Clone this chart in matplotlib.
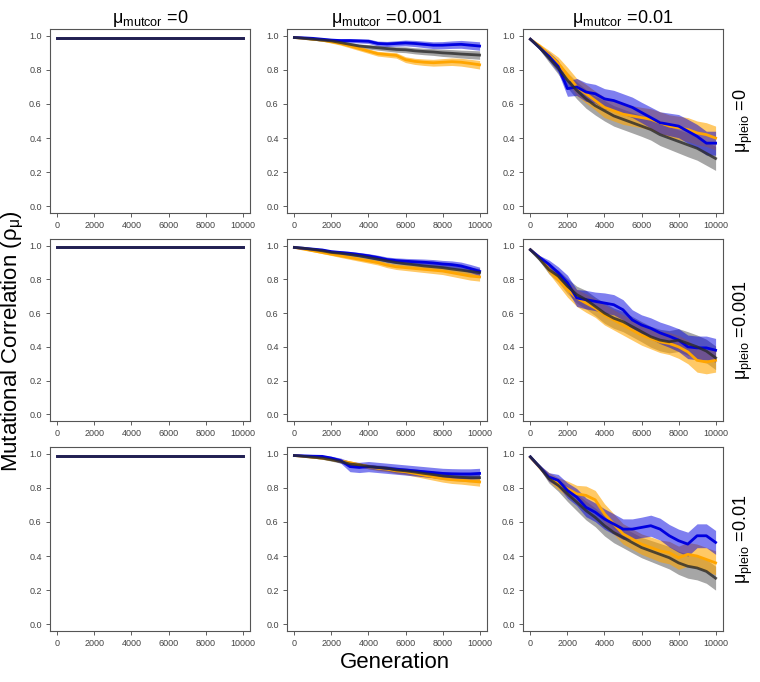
import matplotlib
matplotlib.use("Agg")
import matplotlib.pyplot as plt
import numpy as np

plt.rcParams['font.family'] = ['Liberation Sans', 'DejaVu Sans']
plt.rcParams['mathtext.fontset'] = 'custom'
plt.rcParams['mathtext.rm'] = 'Liberation Sans'
plt.rcParams['mathtext.it'] = 'Liberation Sans'
plt.rcParams['mathtext.default'] = 'regular'

# generations sampled every 500
generation = np.arange(0, 10001, 500)

col_titles = ['0', '0.001', '0.01']
row_titles = ['0', '0.001', '0.01']

# column 1 (mutcor = 0): all series flat
flat = [0.99] * 21
zero_hw = [0.0] * 21

# ---- column 2 (mutcor = 0.001) ----
blue_r1c2 = [0.99, 0.988, 0.985, 0.98, 0.975, 0.972, 0.972, 0.97, 0.968, 0.955, 0.952,
             0.955, 0.958, 0.955, 0.950, 0.945, 0.945, 0.948, 0.950, 0.945, 0.940]
orng_r1c2 = [0.99, 0.985, 0.98, 0.975, 0.965, 0.955, 0.94, 0.925, 0.91, 0.895, 0.89,
             0.885, 0.86, 0.85, 0.845, 0.842, 0.845, 0.848, 0.845, 0.838, 0.83]
gray_r1c2 = [0.99, 0.985, 0.98, 0.975, 0.97, 0.96, 0.95, 0.94, 0.935, 0.93, 0.925,
             0.92, 0.918, 0.912, 0.908, 0.905, 0.90, 0.897, 0.893, 0.89, 0.887]

blue_r2c2 = [0.99, 0.985, 0.98, 0.975, 0.965, 0.96, 0.955, 0.948, 0.94, 0.93, 0.918,
             0.912, 0.908, 0.905, 0.902, 0.898, 0.892, 0.888, 0.88, 0.865, 0.848]
orng_r2c2 = [0.99, 0.98, 0.97, 0.96, 0.95, 0.94, 0.93, 0.92, 0.91, 0.90, 0.885,
             0.875, 0.87, 0.865, 0.86, 0.855, 0.85, 0.84, 0.83, 0.82, 0.815]
gray_r2c2 = [0.99, 0.985, 0.978, 0.97, 0.96, 0.955, 0.948, 0.94, 0.93, 0.92, 0.91,
             0.90, 0.893, 0.887, 0.88, 0.875, 0.87, 0.862, 0.855, 0.848, 0.84]

blue_r3c2 = [0.99, 0.988, 0.986, 0.985, 0.975, 0.96, 0.925, 0.92, 0.925, 0.92, 0.915,
             0.91, 0.905, 0.90, 0.895, 0.89, 0.885, 0.883, 0.882, 0.882, 0.885]
orng_r3c2 = [0.99, 0.985, 0.98, 0.975, 0.968, 0.958, 0.948, 0.935, 0.925, 0.915, 0.91,
             0.90, 0.895, 0.885, 0.875, 0.865, 0.855, 0.848, 0.845, 0.84, 0.835]
gray_r3c2 = [0.99, 0.985, 0.98, 0.975, 0.965, 0.955, 0.94, 0.935, 0.925, 0.92, 0.915,
             0.905, 0.90, 0.893, 0.885, 0.878, 0.87, 0.866, 0.862, 0.86, 0.86]

hw_small = [0.0, 0.003, 0.005, 0.007, 0.008, 0.01, 0.011, 0.012, 0.013, 0.014, 0.015,
            0.016, 0.017, 0.018, 0.019, 0.02, 0.021, 0.022, 0.023, 0.024, 0.025]
hw_blue_r3c2 = [0.0, 0.003, 0.005, 0.007, 0.01, 0.015, 0.03, 0.03, 0.03, 0.03, 0.03,
                0.03, 0.03, 0.03, 0.03, 0.03, 0.03, 0.03, 0.03, 0.03, 0.03]

# ---- column 3 (mutcor = 0.01) ----
blue_r1c3 = [0.98, 0.93, 0.88, 0.82, 0.69, 0.70, 0.67, 0.66, 0.63, 0.62, 0.60,
             0.58, 0.55, 0.52, 0.49, 0.48, 0.47, 0.44, 0.41, 0.37, 0.37]
orng_r1c3 = [0.98, 0.94, 0.89, 0.84, 0.77, 0.70, 0.66, 0.62, 0.58, 0.56, 0.54,
             0.53, 0.52, 0.51, 0.49, 0.47, 0.46, 0.45, 0.43, 0.42, 0.40]
gray_r1c3 = [0.98, 0.93, 0.87, 0.81, 0.74, 0.68, 0.63, 0.59, 0.56, 0.53, 0.51,
             0.49, 0.47, 0.45, 0.42, 0.40, 0.38, 0.36, 0.34, 0.31, 0.28]

blue_r2c3 = [0.976, 0.93, 0.89, 0.84, 0.78, 0.69, 0.68, 0.67, 0.66, 0.65, 0.62,
             0.56, 0.53, 0.51, 0.483, 0.463, 0.44, 0.40, 0.394, 0.394, 0.38]
orng_r2c3 = [0.976, 0.93, 0.86, 0.80, 0.74, 0.69, 0.66, 0.63, 0.59, 0.56, 0.53,
             0.50, 0.47, 0.45, 0.43, 0.42, 0.40, 0.37, 0.32, 0.31, 0.32]
gray_r2c3 = [0.976, 0.92, 0.858, 0.82, 0.76, 0.71, 0.68, 0.64, 0.60, 0.57, 0.55,
             0.52, 0.49, 0.46, 0.44, 0.43, 0.44, 0.42, 0.40, 0.375, 0.335]

blue_r3c3 = [0.982, 0.923, 0.864, 0.844, 0.785, 0.746, 0.686, 0.657, 0.617, 0.588, 0.558,
             0.558, 0.568, 0.578, 0.558, 0.519, 0.49, 0.47, 0.519, 0.519, 0.48]
orng_r3c3 = [0.98, 0.92, 0.865, 0.825, 0.795, 0.765, 0.756, 0.73, 0.647, 0.588, 0.53,
             0.50, 0.47, 0.45, 0.43, 0.42, 0.39, 0.41, 0.40, 0.38, 0.36]
gray_r3c3 = [0.982, 0.923, 0.854, 0.815, 0.765, 0.716, 0.667, 0.627, 0.578, 0.538, 0.509,
             0.479, 0.45, 0.43, 0.41, 0.39, 0.36, 0.34, 0.33, 0.31, 0.27]

hw_big = [0.0, 0.012, 0.025, 0.035, 0.045, 0.05, 0.055, 0.055, 0.06, 0.06, 0.06,
          0.06, 0.06, 0.062, 0.064, 0.066, 0.068, 0.07, 0.07, 0.07, 0.07]

panels = [
    [(flat, flat, flat, zero_hw, zero_hw, zero_hw),
     (blue_r1c2, orng_r1c2, gray_r1c2, hw_small, hw_small, hw_small),
     (blue_r1c3, orng_r1c3, gray_r1c3, hw_big, hw_big, hw_big)],
    [(flat, flat, flat, zero_hw, zero_hw, zero_hw),
     (blue_r2c2, orng_r2c2, gray_r2c2, hw_small, hw_small, hw_small),
     (blue_r2c3, orng_r2c3, gray_r2c3, hw_big, hw_big, hw_big)],
    [(flat, flat, flat, zero_hw, zero_hw, zero_hw),
     (blue_r3c2, orng_r3c2, gray_r3c2, hw_blue_r3c2, hw_small, hw_small),
     (blue_r3c3, orng_r3c3, gray_r3c3, hw_big, hw_big, hw_big)],
]

blue = '#0000e0'
orange = '#ffa500'
gray = '#808080'
dark = '#2a2a2a'

W, H = 760, 682
fig = plt.figure(figsize=(W / 100, H / 100), dpi=100)

col_x = [(50, 250), (287, 487), (523, 723)]
row_y = [(29, 213), (239, 421), (447, 631)]

for r in range(3):
    for c in range(3):
        x0, x1 = col_x[c]
        y0, y1 = row_y[r]
        ax = fig.add_axes([x0 / W, 1 - y1 / H, (x1 - x0) / W, (y1 - y0) / H])
        b, o, g, hb, ho, hg = [np.array(a) for a in panels[r][c]]

        ax.fill_between(generation, g - hg, g + hg, color=gray, alpha=0.7, lw=0)
        ax.fill_between(generation, o - ho, o + ho, color=orange, alpha=0.6, lw=0)
        ax.fill_between(generation, b - hb, b + hb, color=blue, alpha=0.5, lw=0)
        ax.plot(generation, o, color=orange, lw=2)
        ax.plot(generation, b, color=blue, lw=2)
        ax.plot(generation, g, color=dark, lw=2, alpha=0.8)

        ax.set_xlim(-400, 10400)
        ax.set_ylim(-0.04, 1.04)
        ax.set_xticks(range(0, 10001, 2000))
        ax.set_yticks(np.arange(0, 1.01, 0.2))
        ax.set_yticklabels(['0.0', '0.2', '0.4', '0.6', '0.8', '1.0'])
        ax.tick_params(labelsize=6.5, length=3, width=0.6, colors='#444444', pad=3)
        for s in ax.spines.values():
            s.set_color('#555555')
            s.set_linewidth(0.8)

        if r == 0:
            ax.set_title(r'$\mu_{mutcor}$ =' + col_titles[c], fontsize=13, pad=3)
        if c == 2:
            ax.text(1.1, 0.5, r'$\mu_{pleio}$ =' + row_titles[r], transform=ax.transAxes,
                    rotation=90, va='center', ha='center', fontsize=13)

fig.text(13 / W, 0.5, r'Mutational Correlation ($\rho_{\mu}$)', rotation=90,
         va='center', ha='center', fontsize=16)
fig.text(395 / W, 1 - 663 / H, 'Generation', va='center', ha='center', fontsize=16)

fig.savefig('out.png', dpi=100)
